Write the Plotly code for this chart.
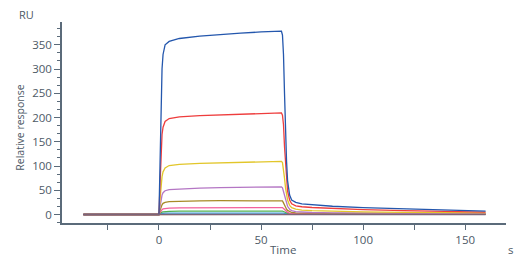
import plotly.graph_objects as go

# time points (s)
time_s = [-37, 0, 0.5, 1, 1.5, 2, 3, 5, 10, 20, 30, 40, 50, 60, 60.5, 61, 61.5, 62, 62.5, 63,
          64, 65, 67, 70, 75, 85, 100, 120, 140, 160]

blue = [0, 0, 100, 230, 300, 330, 350, 357, 363, 368, 371.5, 374, 376.5, 378, 370, 330, 250, 170, 110, 70,
        40, 30, 25, 22, 20, 17, 14, 11.5, 9, 7]
red = [0, 0, 60, 130, 165, 180, 192, 198, 201.5, 204, 205.5, 207, 208.5, 209.5, 205, 185, 140, 100, 70, 48,
       30, 22, 18, 16, 14.5, 12.5, 10, 8, 6.5, 5]
yellow = [0, 0, 30, 60, 78, 88, 96, 101, 103.5, 105.5, 106.5, 107.5, 108.5, 109.5, 107, 95, 75, 55, 40, 30,
          19, 14, 11, 9, 8, 6.5, 5.5, 4.5, 3.8, 3.2]
purple = [0, 0, 15, 30, 40, 45, 49, 51.5, 53, 54.5, 55.5, 56, 56.5, 57, 55, 48, 38, 30, 23, 17,
          11, 8, 6, 5, 4.2, 3.5, 3, 2.6, 2.3, 2]
olive = [0, 0, 8, 15, 20, 23, 25, 26.5, 27.5, 28, 28.5, 28.7, 29, 29.2, 28, 24, 19, 15, 11, 8.5,
         5.5, 4.2, 3.4, 3, 2.7, 2.4, 2.1, 1.9, 1.7, 1.5]
pink = [0, 0, 4, 8, 10, 11.5, 12.5, 13.3, 13.8, 14.2, 14.5, 14.7, 14.9, 15, 14.4, 12.5, 10, 7.8, 6, 4.5,
        3, 2.4, 2, 1.8, 1.6, 1.5, 1.3, 1.2, 1.1, 1]
green = [0, 0, 2, 4, 5, 5.6, 6.1, 6.5, 6.8, 7, 7.1, 7.2, 7.3, 7.4, 7.1, 6.2, 5, 4, 3.1, 2.4,
         1.6, 1.3, 1.1, 1, 0.9, 0.8, 0.7, 0.7, 0.6, 0.6]
lightblue = [0, 0, 1, 1.8, 2.2, 2.5, 2.7, 2.9, 3, 3.1, 3.2, 3.2, 3.3, 3.3, 3.2, 2.8, 2.3, 1.8, 1.4, 1.1,
             0.8, 0.6, 0.5, 0.5, 0.4, 0.4, 0.4, 0.3, 0.3, 0.3]
orange = [0, 0, 0.4, 0.8, 1, 1.1, 1.2, 1.3, 1.4, 1.4, 1.5, 1.5, 1.5, 1.5, 1.4, 1.2, 1, 0.8, 0.6, 0.5,
          0.4, 0.3, 0.3, 0.3, 0.2, 0.2, 0.2, 0.2, 0.2, 0.2]
zero = [0] * len(time_s)

series = [
    (orange, "#f0a040"),
    (lightblue, "#3a9fe0"),
    (green, "#52b152"),
    (pink, "#f2609c"),
    (olive, "#a88a28"),
    (purple, "#b476c4"),
    (yellow, "#e2c62a"),
    (red, "#ee3d3d"),
    (blue, "#2457ad"),
    (zero, "#7d6478"),
]

fig = go.Figure()
for vals, col in series:
    fig.add_trace(go.Scatter(x=time_s, y=vals, mode="lines",
                             line=dict(color=col, width=1.3),
                             showlegend=False, hoverinfo="skip"))

axis_col = "#5b6b7a"
txt_col = "#4d5966"
font_family = "Open Sans"

fig.update_layout(
    width=529, height=265,
    margin=dict(l=62, r=23, t=22, b=41.5),
    paper_bgcolor="white", plot_bgcolor="white",
    font=dict(family=font_family, size=11, color=txt_col),
    xaxis=dict(range=[-47.5, 170], tickvals=[0, 50, 100, 150], ticks="outside", ticklen=5,
               tickcolor=axis_col, showline=True, linecolor=axis_col, linewidth=1.5,
               showgrid=False, zeroline=False, tickfont=dict(size=11.5, color=txt_col),
               minor=dict(tickvals=[-25, 25, 75, 125], ticks="outside", ticklen=5, tickcolor=axis_col)),
    yaxis=dict(range=[-17.5, 397], tickvals=[0, 50, 100, 150, 200, 250, 300, 350], ticks="outside",
               ticklen=6, tickcolor=axis_col, showline=True, linecolor=axis_col, linewidth=1.5,
               showgrid=False, zeroline=False, tickfont=dict(size=11.5, color=txt_col),
               minor=dict(dtick=50 / 3, tick0=0, ticks="outside", ticklen=3, tickcolor=axis_col)),
    annotations=[
        dict(text="RU", xref="paper", yref="paper", x=-0.079, y=1.035, showarrow=False,
             xanchor="center", yanchor="middle", font=dict(size=11, color=txt_col)),
        dict(text="Relative response", xref="paper", yref="paper", x=-0.0946, y=0.474, textangle=-90,
             xanchor="center", yanchor="middle", showarrow=False, font=dict(size=10.5, color=txt_col)),
        dict(text="Time", xref="paper", yref="paper", x=0.497, y=-0.13, showarrow=False,
             xanchor="center", yanchor="middle", font=dict(size=11.5, color=txt_col)),
        dict(text="s", xref="paper", yref="paper", x=1.01, y=-0.13, showarrow=False,
             xanchor="center", yanchor="middle", font=dict(size=11.5, color=txt_col)),
    ],
)

fig.write_html("out.html")
